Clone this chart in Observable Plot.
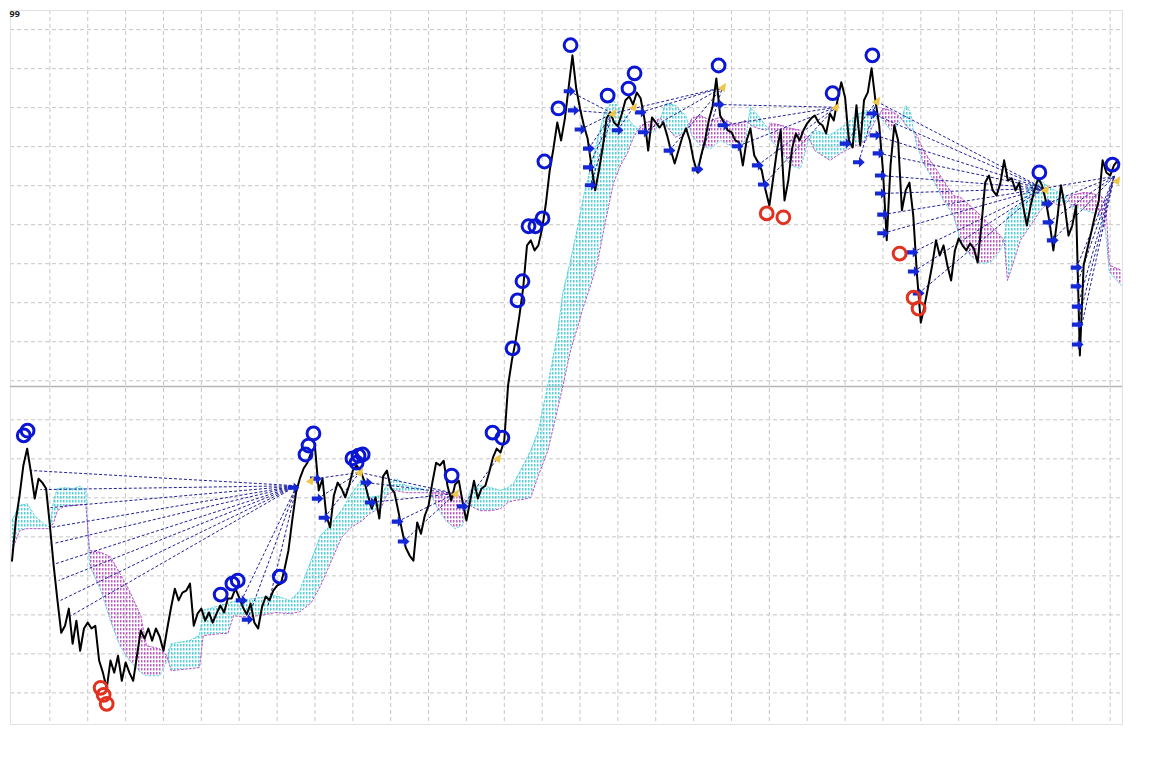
<!DOCTYPE html>
<html>
<head>
<meta charset="utf-8">
<script src="https://cdn.jsdelivr.net/npm/d3@7"></script>
<script src="https://cdn.jsdelivr.net/npm/@observablehq/plot@0.6"></script>
<style>
  body { margin: 0; background: #ffffff; }
  #chart { width: 1164px; height: 770px; }
</style>
</head>
<body>
<div id="chart"></div>
<script>
// ---- price series: one close per bar, first bar index below ----
const firstBar = -10;
const closes = [
  43.9, 54.2, 60.6, 68.3, 72.6, 66.5, 59.8, 64.9, 63.9, 62.4,
  52.9, 42.6, 33.7, 25.4, 27.2, 31.6, 22.6, 28.5, 20.8, 26.5,
  28.0, 26.5, 27.2, 18.3, 15.2, 11.1, 18.3, 15.2, 19.5, 13.1,
  17.8, 15.2, 13.1, 19.5, 26.0, 23.9, 26.5, 23.4, 26.5, 24.4,
  20.8, 26.5, 31.9, 36.7, 33.7, 35.7, 36.2, 38.0, 27.2, 30.3,
  31.6, 28.5, 30.6, 28.0, 30.3, 32.4, 30.6, 34.2, 34.2, 36.7,
  34.4, 31.9, 30.1, 32.9, 28.0, 26.5, 31.9, 34.7, 33.7, 36.2,
  37.5, 38.0, 41.9, 46.5, 54.2, 61.3, 64.9, 67.5, 69.0, 71.6,
  73.1, 61.9, 64.9, 55.4, 52.4, 60.6, 63.9, 62.4, 60.1, 63.1,
  67.0, 68.3, 67.0, 64.4, 60.6, 57.2, 60.1, 54.7, 65.5, 67.0,
  62.6, 61.3, 56.7, 51.6, 47.2, 45.2, 43.9, 53.7, 50.8, 55.4,
  58.0, 63.9, 69.0, 68.3, 69.5, 63.1, 59.3, 63.4, 64.4, 58.8,
  54.2, 59.3, 64.4, 59.8, 62.4, 63.1, 66.5, 70.3, 72.6, 71.6,
  74.7, 88.8, 95.2, 100.3, 106.7, 113.9, 124.7, 126.0, 123.4, 124.7,
  129.0, 135.5, 143.9, 149.6, 156.2, 151.6, 157.2, 165.2, 173.4, 164.9,
  159.8, 155.5, 152.1, 145.2, 138.8, 143.9, 149.8, 157.2, 158.8, 156.2,
  155.2, 158.3, 161.9, 162.9, 160.8, 163.9, 162.4, 157.2, 149.0, 157.5,
  156.2, 154.9, 156.2, 152.9, 149.0, 145.7, 149.0, 152.4, 154.7, 151.6,
  146.5, 143.4, 147.8, 151.6, 156.7, 160.3, 167.5, 158.0, 156.2, 154.2,
  153.7, 151.6, 151.1, 145.2, 151.6, 154.7, 147.8, 146.0, 143.9, 138.8,
  134.9, 141.9, 149.0, 154.2, 136.2, 141.3, 149.5, 153.4, 151.6, 154.2,
  156.0, 157.2, 158.0, 156.2, 155.5, 153.4, 158.5, 156.7, 161.9, 166.5,
  162.6, 151.6, 149.8, 160.6, 150.3, 161.9, 163.9, 170.1, 161.9, 155.5,
  143.9, 126.0, 145.2, 155.5, 151.6, 133.7, 138.8, 140.8, 132.4, 117.0,
  104.9, 109.3, 114.4, 119.6, 126.0, 122.1, 124.7, 119.6, 115.7, 123.4,
  126.5, 124.7, 123.4, 125.2, 123.9, 120.3, 129.8, 140.8, 142.6, 138.8,
  137.5, 140.6, 146.5, 141.3, 141.9, 138.8, 140.8, 134.9, 129.8, 134.9,
  138.8, 141.9, 140.1, 136.2, 130.6, 123.4, 131.1, 140.1, 134.9, 127.2,
  129.8, 134.9, 96.5, 119.6, 123.9, 128.0, 132.4, 136.2, 146.5, 143.4,
  142.6, 145.2, 146.5
];

// ---- Ichimoku cloud (Senkou span A / span B) ----
const cloudBar = [
  -10, -8, -6, -4, -2, 0, 1, 2, 4, 6, 8, 9.5, 10.5, 13.5, 16, 18.5, 21, 24, 25.5, 29,
  31, 32, 37, 39.5, 40.5, 45, 47, 48.5, 50.5, 55.5, 59.5, 63.5, 66, 69, 71.5, 74, 77, 79.5, 82.5, 84.5,
  87.5, 89, 91.5, 94, 98, 100.5, 102, 104.5, 107, 109, 110.3, 111, 113.5, 116.5, 119, 121, 122.5, 125, 127, 129,
  131.5, 134, 135.5, 137.5, 139.5, 141, 142.8, 144.6, 146.5, 148.8, 150.7, 152.5, 154, 155.2, 157.3, 159.9, 161.3, 162.6, 165.2, 167.9,
  168.8, 169.5, 171.8, 174.5, 177.1, 181, 183.7, 184.4, 185, 187, 189, 189.8, 190.5, 193, 195.6, 198.2, 200.5, 202, 206, 210,
  213, 215.5, 218, 219, 220, 222, 224, 225, 226, 227.3, 228, 229, 230.7, 233.4, 236, 238.6, 240.5, 243, 245.8, 248.4,
  251, 252, 252.9, 254.2, 256.3, 259, 261.6, 264.3, 266.4, 268.2, 269, 269.6, 273.5, 277.4, 278.8, 279.8, 283
];
const spanA = [
  54.2, 58.0, 58.5, 55.4, 53.7, 52.4, 59.3, 62.4, 62.6, 62.4, 62.9, 61.9, 42.6, 36.2, 28.5, 22.1, 18.3, 15.2, 14.4, 14.4,
  18.3, 22.6, 23.4, 24.7, 31.1, 32.4, 32.9, 33.4, 33.7, 34.4, 34.9, 33.7, 36.2, 43.9, 50.3, 52.9, 56.7, 60.8, 64.9, 60.1,
  60.6, 63.1, 64.9, 63.1, 62.4, 61.3, 58.0, 54.2, 52.1, 52.9, 58.8, 61.9, 63.1, 62.6, 61.9, 62.6, 63.7, 68.3, 72.1, 77.2,
  88.8, 101.6, 112.6, 120.8, 129.8, 137.5, 144.4, 151.6, 158.8, 161.9, 159.3, 157.5, 155.5, 154.7, 152.9, 154.2, 157.2, 161.1, 160.6, 158.0,
  155.5, 152.9, 150.3, 149.5, 151.6, 149.5, 151.6, 156.2, 160.1, 158.0, 155.5, 154.7, 151.6, 149.0, 145.2, 144.4, 152.1, 154.2, 152.9, 155.5,
  158.0, 159.3, 158.5, 158.0, 156.7, 154.2, 155.5, 157.2, 160.6, 158.8, 154.2, 150.3, 145.7, 141.3, 136.2, 132.4, 126.0, 122.1, 120.1, 120.3,
  123.4, 126.0, 132.4, 133.7, 134.9, 140.1, 141.3, 139.3, 138.3, 137.5, 136.2, 134.9, 133.7, 132.4, 128.5, 117.8, 114.4
];
const spanB = [
  46.5, 51.6, 52.1, 52.1, 52.1, 52.1, 53.7, 56.7, 58.0, 58.0, 58.3, 58.3, 46.5, 46.0, 44.9, 40.6, 36.2, 29.8, 22.1, 21.3,
  19.5, 15.7, 16.2, 16.5, 24.7, 25.2, 25.2, 29.8, 29.5, 29.8, 30.6, 30.3, 30.8, 33.1, 37.5, 43.1, 49.8, 52.4, 54.2, 56.0,
  57.5, 60.8, 61.9, 61.3, 61.3, 61.3, 61.3, 61.1, 60.8, 60.1, 58.8, 58.0, 56.7, 56.7, 57.2, 58.8, 59.3, 59.6, 60.1, 65.7,
  72.1, 82.4, 88.8, 97.8, 104.2, 109.3, 114.4, 120.3, 129.8, 140.6, 145.2, 148.3, 152.1, 154.2, 156.2, 156.7, 157.2, 155.5, 152.4, 153.7,
  155.5, 157.2, 158.0, 156.7, 157.5, 155.5, 156.7, 156.2, 155.5, 154.7, 154.2, 154.7, 156.0, 155.5, 154.7, 154.2, 152.1, 149.0, 146.5, 149.0,
  150.3, 151.6, 156.7, 158.0, 159.8, 159.3, 158.0, 157.2, 155.5, 154.2, 154.2, 152.9, 149.0, 145.2, 141.3, 137.5, 137.0, 134.9, 132.4, 129.8,
  127.2, 126.0, 115.7, 119.6, 126.0, 129.8, 133.7, 136.2, 134.9, 135.4, 136.2, 137.5, 138.3, 137.5, 136.2, 119.6, 118.3
];

// ---- swing markers ----
const highBars   = [-6.9, -5.9, 45.1, 48.2, 49.6, 60.7, 67.5, 68.3, 69.6, 79.9, 81.0, 81.5, 82.6, 106.1, 116.9, 119.5, 122.2, 123.5, 124.8, 126.4, 128.2, 130.1, 130.6, 134.3, 137.5, 147.3, 152.8, 154.4, 176.6, 206.7, 217.2, 261.3, 280.6];
const highPrices = [76.0, 77.2, 35.2, 38.0, 38.8, 39.8, 71.1, 73.4, 76.5, 70.1, 69.0, 70.8, 71.1, 65.7, 76.7, 75.4, 98.3, 110.6, 115.5, 129.6, 129.6, 131.6, 146.2, 159.8, 176.0, 163.1, 164.9, 168.8, 170.8, 163.7, 173.4, 143.4, 145.4];
const lowBars    = [13.4, 14.2, 15.0, 189.3, 193.7, 224.4, 228.1, 229.4];
const lowPrices  = [11.3, 9.5, 7.2, 132.9, 131.9, 122.6, 111.3, 108.5];

// ---- signal arrows and pivot flags ----
const arrowBars   = [64.3, 70.2, 70.7, 72.5, 50.6, 52.2, 83.6, 84.7, 91.8, 93.4, 109.0, 137.2, 138.3, 140.1, 142.3, 142.3, 142.8, 149.9, 156.0, 156.8, 163.6, 171.0, 176.6, 177.9, 181.6, 186.9, 188.5, 210.1, 213.6, 217.2, 218.0, 218.8, 219.4, 219.4, 220.0, 220.0, 227.8, 228.1, 229.4, 263.4, 263.7, 264.8, 271.1, 271.1, 271.4, 271.4, 271.4];
const arrowPrices = [62.6, 64.9, 59.8, 54.9, 33.7, 28.8, 63.9, 58.8, 53.9, 48.8, 57.8, 164.2, 159.3, 154.4, 149.5, 144.7, 140.1, 154.2, 158.8, 153.7, 149.0, 144.2, 160.8, 155.5, 150.1, 145.2, 140.3, 150.8, 146.0, 158.5, 152.9, 148.3, 142.6, 138.0, 132.6, 127.8, 122.9, 118.0, 112.4, 135.4, 130.6, 126.0, 119.0, 114.2, 109.0, 104.4, 99.3];
const flagBars    = [68.8, 81.8, 107.1, 118.2, 148.6, 154.1, 177.6, 207.5, 218.3, 262.9, 281.7];
const flagPrices  = [64.4, 66.5, 61.1, 70.1, 158.5, 160.1, 165.2, 160.1, 161.6, 139.0, 141.3];

// ---- trend fans: [fromBar, fromPrice, toBar, toPrice] ----
const fanLines = [
  [65.2, 63.1, -5.1, 67.0], [65.2, 63.1, -2.5, 62.1], [65.2, 63.1, 0.2, 57.5], [65.2, 63.1, 0.2, 52.4],
  [65.2, 63.1, 1.0, 48.3], [65.2, 63.1, 1.5, 43.1], [65.2, 63.1, 2.3, 38.8], [65.2, 63.1, 2.8, 33.7],
  [65.2, 63.1, 4.7, 29.3], [65.2, 63.1, 50.6, 33.7], [65.2, 63.1, 52.2, 28.8], [65.2, 63.1, 57.5, 31.9],
  [70.2, 64.9, 81.8, 66.5], [70.7, 59.8, 81.8, 66.5], [72.5, 54.9, 81.8, 66.5], [81.8, 66.5, 107.1, 61.1],
  [83.6, 63.9, 107.1, 61.1], [84.7, 58.8, 107.1, 61.1], [91.8, 53.9, 107.1, 61.1], [93.4, 48.8, 107.1, 61.1],
  [109.0, 57.8, 118.2, 70.1],
  [137.2, 164.2, 148.6, 158.5], [138.3, 159.3, 148.6, 158.5], [140.1, 154.4, 148.6, 158.5], [142.3, 149.5, 148.6, 158.5],
  [142.3, 144.7, 148.6, 158.5], [142.8, 140.1, 148.6, 158.5], [149.9, 154.2, 154.1, 160.1], [148.6, 158.5, 177.6, 165.2],
  [156.0, 158.8, 177.6, 165.2], [156.8, 153.7, 177.6, 165.2], [163.6, 149.0, 177.6, 165.2], [171.0, 144.2, 177.6, 165.2],
  [176.6, 160.8, 207.5, 160.1], [177.9, 155.5, 207.5, 160.1], [181.6, 150.1, 207.5, 160.1], [186.9, 145.2, 207.5, 160.1],
  [188.5, 140.3, 207.5, 160.1], [210.1, 150.8, 218.3, 161.6], [213.6, 146.0, 218.3, 161.6],
  [218.3, 161.6, 262.4, 139.3], [217.2, 158.5, 262.4, 139.3], [218.0, 152.9, 262.4, 139.3], [218.8, 148.3, 262.4, 139.3],
  [219.4, 142.6, 262.4, 139.3], [219.4, 138.0, 262.4, 139.3], [220.0, 132.6, 262.4, 139.3], [220.0, 127.8, 262.4, 139.3],
  [227.8, 122.9, 262.4, 139.3], [228.1, 118.0, 262.4, 139.3], [229.4, 112.4, 262.4, 139.3],
  [262.4, 139.3, 281.1, 142.4], [263.4, 135.4, 281.1, 142.4], [263.7, 130.6, 281.1, 142.4], [264.8, 126.0, 281.1, 142.4],
  [271.1, 119.0, 281.1, 142.4], [271.1, 114.2, 281.1, 142.4], [271.4, 109.0, 281.1, 142.4], [271.4, 104.4, 281.1, 142.4],
  [271.4, 99.3, 281.1, 142.4]
];

// ---- chart grid ----
const gridBars = d3.range(0, 290, 10);
const gridLevels = d3.range(10, 190, 10);
const levelLine = 88.5;
const symbolLabel = "99";

// ---- derived tables ----
const price = closes.map((c, i) => ({bar: firstBar + i, close: c}));
const cloud = cloudBar.map((b, i) => ({bar: b, a: spanA[i], b: spanB[i], top: Math.max(spanA[i], spanB[i])}));
const highs = highBars.map((b, i) => ({bar: b, price: highPrices[i]}));
const lows = lowBars.map((b, i) => ({bar: b, price: lowPrices[i]}));
const arrows = arrowBars.map((b, i) => ({bar: b, price: arrowPrices[i]}));
const flags = flagBars.map((b, i) => ({bar: b, price: flagPrices[i]}));
const fans = fanLines.map(([x1, y1, x2, y2]) => ({x1, y1, x2, y2}));

// small right-pointing arrow glyph
const arrowSymbol = {
  draw(ctx, size) {
    const r = Math.sqrt(size / Math.PI);
    ctx.moveTo(-1.1 * r, -0.4 * r);
    ctx.lineTo(0.05 * r, -0.4 * r);
    ctx.lineTo(0.05 * r, -1.0 * r);
    ctx.lineTo(1.15 * r, 0);
    ctx.lineTo(0.05 * r, 1.0 * r);
    ctx.lineTo(0.05 * r, 0.4 * r);
    ctx.lineTo(-1.1 * r, 0.4 * r);
    ctx.closePath();
  }
};
// left-pointing flag triangle
const flagSymbol = {
  draw(ctx, size) {
    const r = Math.sqrt(size / Math.PI);
    ctx.moveTo(-r, 0.2 * r);
    ctx.lineTo(0.8 * r, -r);
    ctx.lineTo(0.5 * r, r);
    ctx.closePath();
  }
};

const chart = Plot.plot({
  width: 1164,
  height: 770,
  marginLeft: 10,
  marginRight: 42,
  marginTop: 10,
  marginBottom: 46,
  x: {domain: [-10.4, 283.26], axis: null},
  y: {domain: [1.9, 184.9], axis: null},
  marks: [
    Plot.ruleX(gridBars, {stroke: "#c6c6c6", strokeDasharray: "4,3", strokeWidth: 1}),
    Plot.ruleY(gridLevels, {stroke: "#c6c6c6", strokeDasharray: "4,3", strokeWidth: 1}),
    Plot.frame({stroke: "#e2e2e2"}),
    Plot.ruleY([levelLine], {stroke: "#b4b4b4", strokeWidth: 1.5}),
    // cloud: bullish part (span A above span B) and bearish part
    Plot.areaY(cloud, {x: "bar", y1: "b", y2: "top", fill: "url(#kumoUp)", curve: "linear"}),
    Plot.areaY(cloud, {x: "bar", y1: "a", y2: "top", fill: "url(#kumoDown)", curve: "linear"}),
    Plot.line(cloud, {x: "bar", y: "a", stroke: "#5fd6de", strokeWidth: 1, strokeDasharray: "2,2"}),
    Plot.line(cloud, {x: "bar", y: "b", stroke: "#b452c4", strokeWidth: 1, strokeDasharray: "2,2"}),
    Plot.link(fans, {x1: "x1", y1: "y1", x2: "x2", y2: "y2", stroke: "#20209a", strokeWidth: 1, strokeDasharray: "3,2"}),
    Plot.line(price, {x: "bar", y: "close", stroke: "#000000", strokeWidth: 2}),
    Plot.dot(arrows, {x: "bar", y: "price", symbol: arrowSymbol, r: 5.2, fill: "#1428d8", stroke: "none"}),
    Plot.dot(flags, {x: "bar", y: "price", symbol: flagSymbol, r: 4.6, fill: "#f0c64a", stroke: "none"}),
    Plot.dot(lows, {x: "bar", y: "price", r: 6.4, stroke: "#e2311f", strokeWidth: 3, fill: "none"}),
    Plot.dot(highs, {x: "bar", y: "price", r: 6.4, stroke: "#0a16d4", strokeWidth: 3, fill: "none"}),
    Plot.text([symbolLabel], {frameAnchor: "top-left", dx: -1, dy: 0, fontSize: 9, fontWeight: "bold", fill: "#222", textAnchor: "start"})
  ]
});

// dotted hatch fills used by the cloud
const defs = d3.select(chart).insert("defs", ":first-child");
function hatch(id, color) {
  const p = defs.append("pattern")
    .attr("id", id)
    .attr("width", 3)
    .attr("height", 4)
    .attr("patternUnits", "userSpaceOnUse");
  p.append("rect").attr("x", 0).attr("y", 0).attr("width", 1.5).attr("height", 2.5).attr("fill", color);
}
hatch("kumoUp", "#4fd2da");
hatch("kumoDown", "#c25ccc");

document.getElementById("chart").appendChild(chart);
</script>
</body>
</html>
